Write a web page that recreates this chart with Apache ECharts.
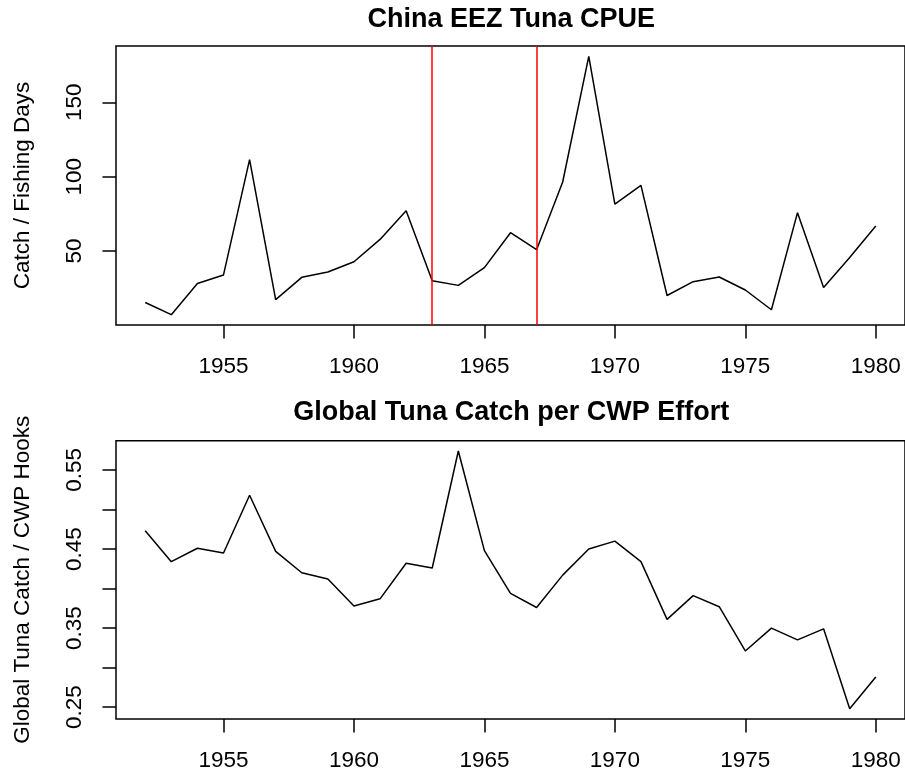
<!DOCTYPE html>
<html>
<head>
<meta charset="utf-8">
<script src="https://cdn.jsdelivr.net/npm/echarts@6/dist/echarts.min.js"></script>
<style>
  html, body { margin: 0; padding: 0; background: #fff; }
  #chart { width: 905px; height: 775px; }
</style>
</head>
<body>
<div id="chart"></div>
<script>
// Years covered by both series
const years = [1952, 1953, 1954, 1955, 1956, 1957, 1958, 1959, 1960, 1961,
               1962, 1963, 1964, 1965, 1966, 1967, 1968, 1969, 1970, 1971,
               1972, 1973, 1974, 1975, 1976, 1977, 1978, 1979, 1980];

// China EEZ tuna catch per fishing day
const cpue = [15.4, 7.2, 28.2, 33.9, 111.4, 17.3, 32.3, 35.9, 42.8, 57.8,
              77.1, 30.0, 26.9, 38.8, 62.3, 50.9, 96.4, 180.9, 81.6, 94.1,
              20.1, 29.4, 32.5, 23.8, 10.5, 75.8, 25.5, 45.7, 66.8];

// Global tuna catch per CWP hook
const catchPerHook = [0.473, 0.434, 0.451, 0.445, 0.518, 0.447, 0.420, 0.412, 0.378, 0.387,
                      0.432, 0.426, 0.574, 0.448, 0.394, 0.376, 0.417, 0.450, 0.460, 0.434,
                      0.361, 0.391, 0.377, 0.321, 0.350, 0.335, 0.349, 0.248, 0.288];

// Reference years marked on the CPUE panel
const markYears = [1963, 1967];

// Tick positions and labels
const xTicks = [1955, 1960, 1965, 1970, 1975, 1980];
const cpueTicks = [50, 100, 150];
const hookTicks = [0.25, 0.30, 0.35, 0.40, 0.45, 0.50, 0.55];
const hookLabels = [0.25, 0.35, 0.45, 0.55];

const titles = ['China EEZ Tuna CPUE', 'Global Tuna Catch per CWP Effort'];
const yNames = ['Catch / Fishing Days', 'Global Tuna Catch / CWP Hooks'];

const FONT = '"Liberation Sans", Arial, Helvetica, sans-serif';

// Axis range padded by 4% on each side of the data
function padded(arr) {
  const lo = Math.min(...arr), hi = Math.max(...arr);
  const p = (hi - lo) * 0.04;
  return [lo - p, hi + p];
}

const xr = padded(years);
const y1 = padded(cpue);
const y2 = padded(catchPerHook);

const pairs = (vals) => years.map((y, i) => [y, vals[i]]);

const gridW = 790.6;
const grids = [
  { left: 116, top: 46, width: gridW, height: 279 },
  { left: 116, top: 440.7, width: gridW, height: 278.3 }
];

function xAxis(gi) {
  return {
    type: 'value', gridIndex: gi, min: xr[0], max: xr[1],
    axisLine: { show: false },
    splitLine: { show: false },
    axisTick: { show: true, inside: false, length: 13.5, customValues: xTicks,
                lineStyle: { color: '#000', width: 1.5 } },
    axisLabel: { customValues: xTicks, margin: 30, color: '#000',
                 fontFamily: FONT, fontSize: 22.5, formatter: v => String(v) }
  };
}

function yAxis(gi, range, ticks, labels, fmt, name) {
  return {
    type: 'value', gridIndex: gi, min: range[0], max: range[1],
    name: name, nameLocation: 'middle', nameRotate: 90, nameGap: 93,
    nameTextStyle: { color: '#000', fontFamily: FONT, fontSize: 22.5,
                     align: 'center', verticalAlign: 'middle' },
    axisLine: { show: false },
    splitLine: { show: false },
    axisTick: { show: true, inside: false, length: 13.5, customValues: ticks,
                lineStyle: { color: '#000', width: 1.5 } },
    axisLabel: { customValues: labels, margin: 41, rotate: 90, color: '#000',
                 align: 'center', verticalAlign: 'middle',
                 fontFamily: FONT, fontSize: 22.5, formatter: fmt }
  };
}

const chart = echarts.init(document.getElementById('chart'), null, { renderer: 'canvas' });

chart.setOption({
  animation: false,
  backgroundColor: '#fff',
  title: [
    { text: titles[0], left: 511.3, top: 6.5, padding: 0, textAlign: 'left',
      textStyle: { fontFamily: FONT, fontSize: 27, fontWeight: 'bold', color: '#000' } },
    { text: titles[1], left: 511.3, top: 399, padding: 0, textAlign: 'left',
      textStyle: { fontFamily: FONT, fontSize: 27, fontWeight: 'bold', color: '#000' } }
  ].map(t => Object.assign(t, { textAlign: 'center' })),
  grid: grids.map(g => Object.assign({ show: true, borderColor: '#000', borderWidth: 1.5,
                                       backgroundColor: 'transparent', containLabel: false }, g)),
  xAxis: [xAxis(0), xAxis(1)],
  yAxis: [
    yAxis(0, y1, cpueTicks, cpueTicks, v => String(v), yNames[0]),
    yAxis(1, y2, hookTicks, hookLabels, v => v.toFixed(2), yNames[1])
  ],
  series: [
    {
      type: 'line', xAxisIndex: 0, yAxisIndex: 0, data: pairs(cpue),
      showSymbol: false, symbol: 'none',
      lineStyle: { color: '#000', width: 1.5 },
      markLine: {
        silent: true, symbol: 'none', label: { show: false },
        lineStyle: { color: '#ff0000', width: 1.5, type: 'solid' },
        data: markYears.map(y => ({ xAxis: y }))
      }
    },
    {
      type: 'line', xAxisIndex: 1, yAxisIndex: 1, data: pairs(catchPerHook),
      showSymbol: false, symbol: 'none',
      lineStyle: { color: '#000', width: 1.5 }
    }
  ]
});
</script>
</body>
</html>
